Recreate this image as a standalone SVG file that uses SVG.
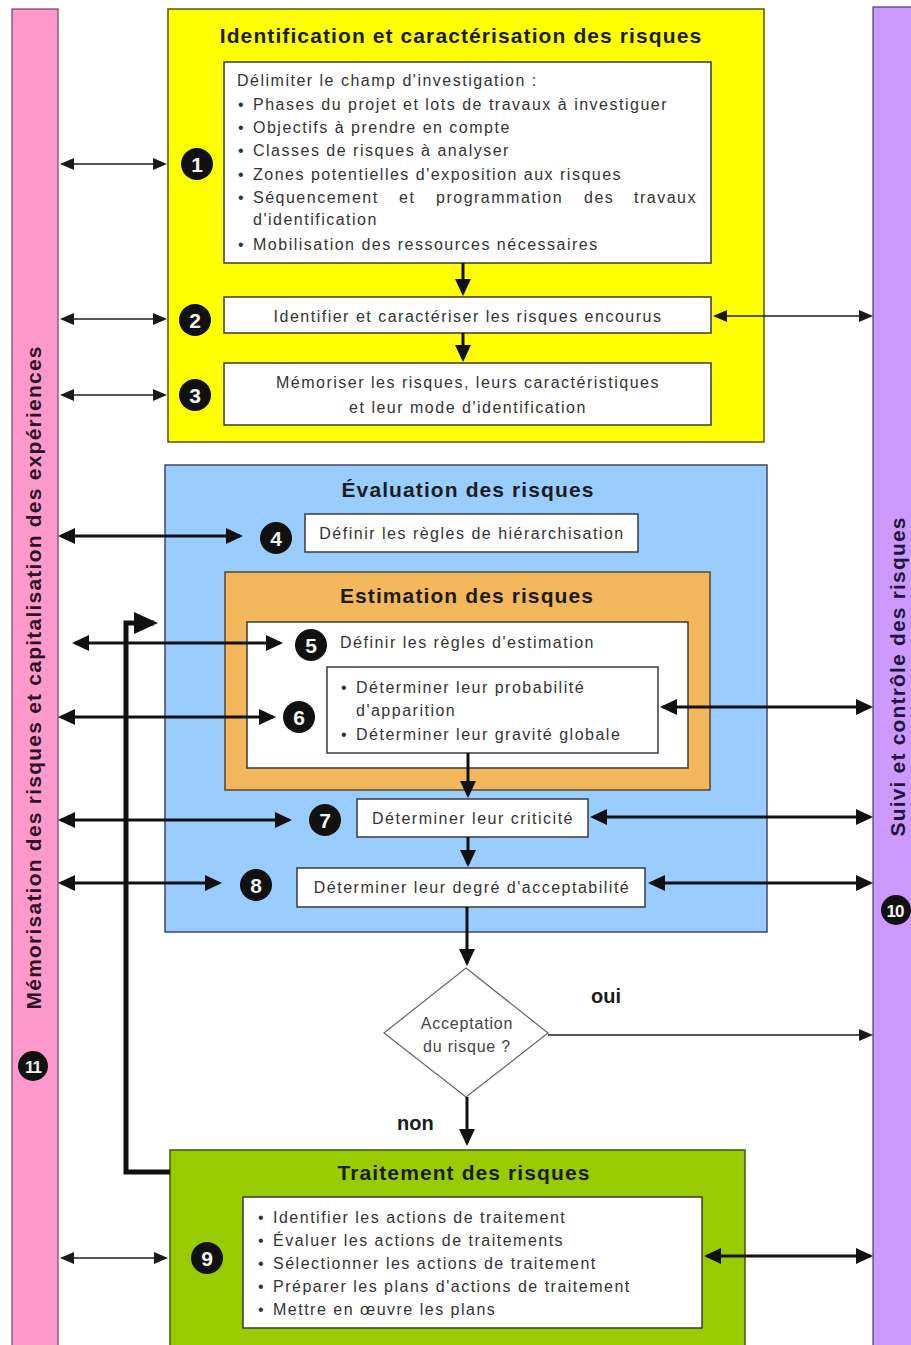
<svg xmlns="http://www.w3.org/2000/svg" width="911" height="1345" viewBox="0 0 911 1345">
  <style>
    .t { font-family: "Liberation Sans", Arial, sans-serif; font-size: 16px; letter-spacing: 1.5px; fill: #333; }
    .c { text-anchor: middle; }
    .h { font-family: "Liberation Sans", Arial, sans-serif; font-weight: bold; font-size: 21px; letter-spacing: 1.1px; fill: #1c1c1c; text-anchor: middle; }
    .lbl { font-family: "Liberation Sans", Arial, sans-serif; font-weight: bold; font-size: 20px; fill: #1c1c1c; }
    .bar { font-family: "Liberation Sans", Arial, sans-serif; font-weight: bold; font-size: 21px; text-anchor: middle; }
    .box { fill: #fff; stroke: #3a3a3a; stroke-width: 1.5; }
    .num circle { fill: #111; }
    .num text { font-family: "Liberation Sans", Arial, sans-serif; font-weight: bold; font-size: 21px; fill: #f4f4f4; text-anchor: middle; }
    .thin { stroke: #1e1e1e; stroke-width: 1.6; fill: none; }
    .thick { stroke: #111; stroke-width: 3; fill: none; }
    .both-thin { marker-start: url(#ah); marker-end: url(#ah); }
    .both-thick { marker-start: url(#ahb); marker-end: url(#ahb); }
  </style>
  <defs>
    <marker id="ah" viewBox="0 0 14 12" refX="12" refY="6" markerWidth="14" markerHeight="12" markerUnits="userSpaceOnUse" orient="auto-start-reverse">
      <path d="M0,0 L14,6 L0,12 z" fill="#1a1a1a"/>
    </marker>
    <marker id="ahb" viewBox="0 0 17 16" refX="14" refY="8" markerWidth="17" markerHeight="16" markerUnits="userSpaceOnUse" orient="auto-start-reverse">
      <path d="M0,0 L17,8 L0,16 z" fill="#111"/>
    </marker>
    <marker id="ahf" viewBox="0 0 24 22" refX="20" refY="11" markerWidth="24" markerHeight="22" markerUnits="userSpaceOnUse" orient="auto">
      <path d="M0,0 L24,11 L0,22 z" fill="#111"/>
    </marker>
  </defs>

  <rect width="911" height="1345" fill="#fff"/>

  <!-- side bars -->
  <g id="memorisation">
    <rect x="12" y="9" width="46" height="1350" fill="#ff99cc" stroke="#7a3c5c" stroke-width="1.2"/>
    <text class="bar" fill="#2a1424" transform="translate(41,678) rotate(-90)" textLength="663" lengthAdjust="spacing">Mémorisation des risques et capitalisation des expériences</text>
    <g class="num"><circle cx="33" cy="1066" r="15"/><text x="33" y="1073" style="font-size:17px;letter-spacing:-1px">11</text></g>
  </g>
  <g id="suivi">
    <rect x="873" y="7" width="60" height="1352" fill="#cc99ff" stroke="#4e3a6e" stroke-width="1.2"/>
    <text class="bar" fill="#221638" transform="translate(905,677) rotate(-90)" textLength="319" lengthAdjust="spacing">Suivi et contrôle des risques</text>
    <g class="num"><circle cx="896" cy="910" r="15"/><text x="895" y="917" style="font-size:17px;letter-spacing:-1px">10</text></g>
  </g>

  <!-- identification block -->
  <g id="identification">
    <rect x="168" y="9" width="596" height="433" fill="#ffff00" stroke="#55550a" stroke-width="1.5"/>
    <text class="h" x="461" y="43">Identification et caractérisation des risques</text>
  </g>
  <g id="etape1">
    <rect class="box" x="224" y="62" width="487" height="201"/>
    <text class="t" x="237" y="86">Délimiter le champ d'investigation :</text>
    <text class="t" y="110"><tspan x="238">•</tspan><tspan x="253">Phases du projet et lots de travaux à investiguer</tspan></text>
    <text class="t" y="133"><tspan x="238">•</tspan><tspan x="253">Objectifs à prendre en compte</tspan></text>
    <text class="t" y="156"><tspan x="238">•</tspan><tspan x="253">Classes de risques à analyser</tspan></text>
    <text class="t" y="180"><tspan x="238">•</tspan><tspan x="253">Zones potentielles d'exposition aux risques</tspan></text>
    <text class="t" y="203"><tspan x="238">•</tspan><tspan x="253">Séquencement</tspan><tspan x="399">et</tspan><tspan x="436">programmation</tspan><tspan x="584">des</tspan><tspan x="634">travaux</tspan></text>
    <text class="t" x="253" y="225">d'identification</text>
    <text class="t" y="250"><tspan x="238">•</tspan><tspan x="253">Mobilisation des ressources nécessaires</tspan></text>
    <g class="num"><circle cx="197" cy="164" r="16"/><text x="197" y="171.5">1</text></g>
  </g>
  <g id="etape2">
    <rect class="box" x="224" y="297" width="487" height="36"/>
    <text class="t c" x="468" y="322">Identifier et caractériser les risques encourus</text>
    <g class="num"><circle cx="195" cy="320" r="16"/><text x="195" y="327.5">2</text></g>
  </g>
  <g id="etape3">
    <rect class="box" x="224" y="363" width="487" height="62"/>
    <text class="t c" x="468" y="388">Mémoriser les risques, leurs caractéristiques</text>
    <text class="t c" x="468" y="413">et leur mode d'identification</text>
    <g class="num"><circle cx="195" cy="395" r="16"/><text x="195" y="402.5">3</text></g>
  </g>

  <!-- evaluation block -->
  <g id="evaluation">
    <rect x="165" y="465" width="602" height="467" fill="#99ccff" stroke="#3c4a66" stroke-width="1.5"/>
    <text class="h" x="468" y="497">Évaluation des risques</text>
  </g>
  <g id="etape4">
    <rect class="box" x="305" y="514" width="333" height="38"/>
    <text class="t c" x="472" y="539">Définir les règles de hiérarchisation</text>
    <g class="num"><circle cx="276" cy="538" r="16"/><text x="276" y="545.5">4</text></g>
  </g>
  <g id="estimation">
    <rect x="225" y="572" width="485" height="218" fill="#f3b85c" stroke="#55462a" stroke-width="1.5"/>
    <text class="h" x="467" y="603">Estimation des risques</text>
    <rect class="box" x="247" y="622" width="441" height="146"/>
  </g>
  <g id="etape5">
    <text class="t" x="340" y="648">Définir les règles d'estimation</text>
    <g class="num"><circle cx="311" cy="645" r="16"/><text x="311" y="652.5">5</text></g>
  </g>
  <g id="etape6">
    <rect class="box" x="327" y="667" width="331" height="86"/>
    <text class="t" y="693"><tspan x="341">•</tspan><tspan x="356">Déterminer leur probabilité</tspan></text>
    <text class="t" x="356" y="716">d'apparition</text>
    <text class="t" y="740"><tspan x="341">•</tspan><tspan x="356">Déterminer leur gravité globale</tspan></text>
    <g class="num"><circle cx="299" cy="717" r="16"/><text x="299" y="724.5">6</text></g>
  </g>
  <g id="etape7">
    <rect class="box" x="357" y="799" width="231" height="38"/>
    <text class="t c" x="473" y="824">Déterminer leur criticité</text>
    <g class="num"><circle cx="325" cy="820" r="16"/><text x="325" y="827.5">7</text></g>
  </g>
  <g id="etape8">
    <rect class="box" x="297" y="868" width="348" height="39"/>
    <text class="t c" x="472" y="893">Déterminer leur degré d'acceptabilité</text>
    <g class="num"><circle cx="256" cy="885" r="16"/><text x="256" y="892.5">8</text></g>
  </g>

  <!-- decision -->
  <g id="decision">
    <polygon points="466,968 548,1033 466,1097 384,1033" fill="#fff" stroke="#666" stroke-width="1.2"/>
    <text class="t c" x="467" y="1029" style="fill:#444;letter-spacing:0.8px">Acceptation</text>
    <text class="t c" x="467" y="1052" style="fill:#444;letter-spacing:0.8px">du risque ?</text>
    <text class="lbl" x="591" y="1003">oui</text>
    <text class="lbl" x="397" y="1130">non</text>
  </g>

  <!-- treatment block -->
  <g id="traitement">
    <rect x="170" y="1150" width="575" height="210" fill="#99cc00" stroke="#3e5a10" stroke-width="1.5"/>
    <text class="h" x="464" y="1180">Traitement des risques</text>
  </g>
  <g id="etape9">
    <rect class="box" x="243" y="1197" width="459" height="131"/>
    <text class="t" y="1223"><tspan x="258">•</tspan><tspan x="273">Identifier les actions de traitement</tspan></text>
    <text class="t" y="1246"><tspan x="258">•</tspan><tspan x="273">Évaluer les actions de traitements</tspan></text>
    <text class="t" y="1269"><tspan x="258">•</tspan><tspan x="273">Sélectionner les actions de traitement</tspan></text>
    <text class="t" y="1292"><tspan x="258">•</tspan><tspan x="273">Préparer les plans d'actions de traitement</tspan></text>
    <text class="t" y="1315"><tspan x="258">•</tspan><tspan x="273">Mettre en œuvre les plans</tspan></text>
    <g class="num"><circle cx="207" cy="1258" r="16"/><text x="207" y="1265.5">9</text></g>
  </g>

  <!-- connectors -->
  <g id="connectors">
    <line class="thin both-thin" x1="62" y1="164" x2="165" y2="164"/>
    <line class="thin both-thin" x1="62" y1="319" x2="165" y2="319"/>
    <line class="thin both-thin" x1="62" y1="395" x2="165" y2="395"/>
    <line class="thin both-thin" x1="715" y1="316" x2="871" y2="316"/>
    <line class="thin both-thin" x1="62" y1="1258" x2="166" y2="1258"/>
    <line class="thin" x1="548" y1="1035" x2="871" y2="1035" marker-end="url(#ah)"/>

    <line class="thick" x1="463" y1="263" x2="463" y2="293" marker-end="url(#ahb)"/>
    <line class="thick" x1="463" y1="333" x2="463" y2="359" marker-end="url(#ahb)"/>
    <line class="thick" x1="468" y1="753" x2="468" y2="795" marker-end="url(#ahb)"/>
    <line class="thick" x1="468" y1="837" x2="468" y2="864" marker-end="url(#ahb)"/>
    <line class="thick" x1="467" y1="907" x2="467" y2="963" marker-end="url(#ahb)"/>
    <line class="thick" x1="467" y1="1097" x2="467" y2="1143" marker-end="url(#ahb)"/>

    <path d="M170,1172 H126 V623 H154" stroke="#111" stroke-width="5" fill="none" marker-end="url(#ahf)"/>

    <line class="thick both-thick" x1="61" y1="536" x2="240" y2="536"/>
    <line class="thick both-thick" x1="75" y1="643" x2="280" y2="643"/>
    <line class="thick both-thick" x1="61" y1="717" x2="273" y2="717"/>
    <line class="thick both-thick" x1="663" y1="707" x2="870" y2="707"/>
    <line class="thick both-thick" x1="61" y1="820" x2="289" y2="820"/>
    <line class="thick both-thick" x1="593" y1="817" x2="870" y2="817"/>
    <line class="thick both-thick" x1="61" y1="883" x2="219" y2="883"/>
    <line class="thick both-thick" x1="651" y1="883" x2="870" y2="883"/>
    <line class="thick both-thick" x1="707" y1="1256" x2="870" y2="1256"/>
  </g>
</svg>
